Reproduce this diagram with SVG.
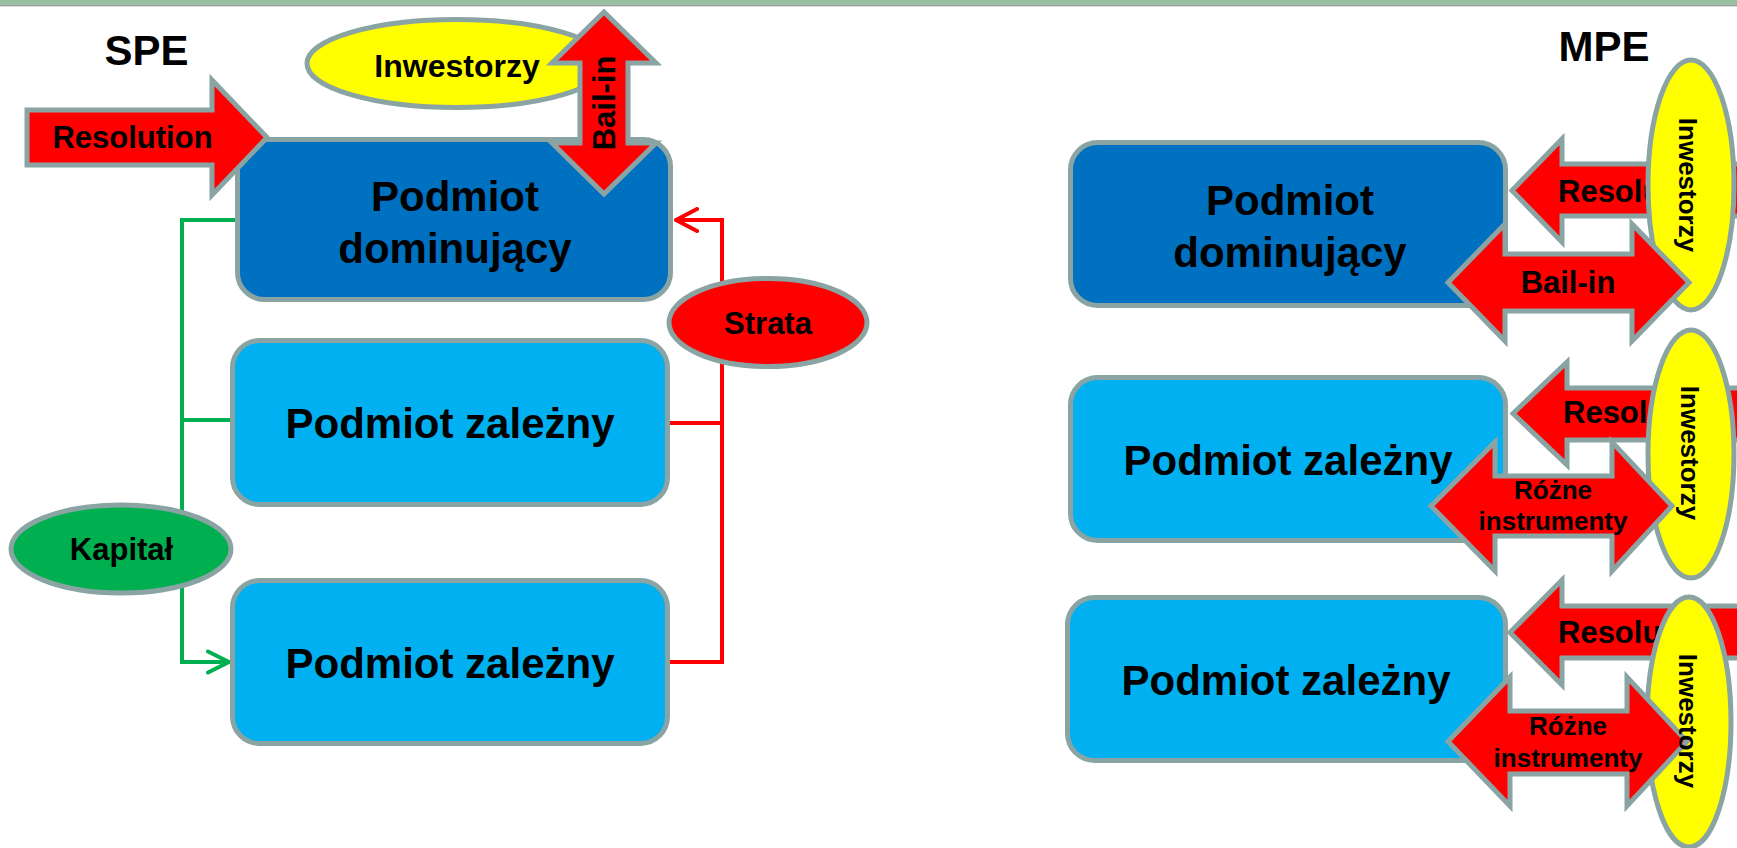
<svg xmlns="http://www.w3.org/2000/svg" width="1737" height="848" viewBox="0 0 1737 848">
<defs>
<style>
.n{stroke:#8aa3a3;stroke-width:5;stroke-linejoin:miter}
.dk{fill:#0070C0}
.lt{fill:#00B0F0}
.rd{fill:#FF0000}
.yl{fill:#FFFF00}
.gr{fill:#00B050}
.t{font-family:"Liberation Sans",Arial,sans-serif;font-weight:bold;fill:#000;text-anchor:middle}
.s{text-anchor:start}
.big{font-size:42px}
.mid{font-size:31px}
.sm{font-size:26px}
.gl{fill:none;stroke:#00B050;stroke-width:4}
.rl{fill:none;stroke:#FF0000;stroke-width:4}
</style>
<marker id="gArr" viewBox="0 0 26 26" refX="23" refY="13" markerWidth="26" markerHeight="26" markerUnits="userSpaceOnUse" orient="auto">
<path d="M2,2.5 L23,13 L2,23.5" fill="none" stroke="#00B050" stroke-width="4" stroke-linecap="round" stroke-linejoin="round"/>
</marker>
<marker id="rArr" viewBox="0 0 26 26" refX="23" refY="13" markerWidth="26" markerHeight="26" markerUnits="userSpaceOnUse" orient="auto">
<path d="M2,2 L23,13 L2,24" fill="none" stroke="#FF0000" stroke-width="4" stroke-linecap="round" stroke-linejoin="round"/>
</marker>
</defs>
<rect x="0" y="0" width="1737" height="848" fill="#ffffff"/>
<g id="topbar">
<rect x="0" y="0" width="1737" height="4.5" fill="#95bf9f"/>
<rect x="0" y="4.5" width="1737" height="1.8" fill="#8f9b99"/>
</g>

<g id="connectors">
<path class="gl" d="M235,220 H182 V662 H229" marker-end="url(#gArr)"/>
<path class="gl" d="M182,420 H231"/>
<path class="rl" d="M670,662 H722 V220 H676" marker-end="url(#rArr)"/>
<path class="rl" d="M670,423 H722"/>
</g>

<g id="spe-title"><text class="t big" x="146.5" y="65">SPE</text></g>
<g id="mpe-title"><text class="t big" x="1604" y="61">MPE</text></g>

<g id="spe-dominujacy">
<rect class="n dk" x="237.5" y="139.5" width="433" height="160" rx="27"/>
<text class="t big" x="455" y="211">Podmiot</text>
<text class="t big" x="455" y="263">dominujący</text>
</g>
<g id="spe-zalezny-1">
<rect class="n lt" x="232.5" y="340.5" width="435" height="164" rx="27"/>
<text class="t big" x="450" y="438">Podmiot zależny</text>
</g>
<g id="spe-zalezny-2">
<rect class="n lt" x="232.5" y="580.5" width="435" height="163" rx="27"/>
<text class="t big" x="450" y="678">Podmiot zależny</text>
</g>

<g id="spe-resolution">
<polygon class="n rd" points="27,110 212,110 212,80 267,137.5 212,195 212,165 27,165"/>
<text class="t mid" x="132.5" y="148">Resolution</text>
</g>
<g id="spe-inwestorzy">
<ellipse class="n yl" cx="457" cy="63.5" rx="150" ry="44"/>
<text class="t" style="font-size:32px" x="457" y="77">Inwestorzy</text>
</g>
<g id="spe-bailin">
<polygon class="n rd" points="604,12 656,63 628,63 628,143 656,143 604,194 552,143 580,143 580,63 552,63"/>
<text class="t mid" transform="translate(604,103) rotate(-90)" x="0" y="11">Bail-in</text>
</g>
<g id="spe-strata">
<ellipse class="n rd" cx="768" cy="322.5" rx="99" ry="44"/>
<text class="t mid" x="768" y="334">Strata</text>
</g>
<g id="spe-kapital">
<ellipse class="n gr" cx="121" cy="549" rx="110" ry="44"/>
<text class="t mid" x="121.5" y="560">Kapitał</text>
</g>

<g id="mpe-dominujacy">
<rect class="n dk" x="1070.5" y="142.5" width="435" height="163" rx="27"/>
<text class="t big" x="1290" y="215">Podmiot</text>
<text class="t big" x="1290" y="267">dominujący</text>
</g>
<g id="mpe-zalezny-1">
<rect class="n lt" x="1070.5" y="377.5" width="435" height="163" rx="27"/>
<text class="t big" x="1288" y="475">Podmiot zależny</text>
</g>
<g id="mpe-zalezny-2">
<rect class="n lt" x="1067.5" y="597.5" width="438" height="163" rx="27"/>
<text class="t big" x="1286" y="695">Podmiot zależny</text>
</g>

<g id="mpe-resolution-1">
<polygon class="n rd" points="1512,190.5 1562,139 1562,164 1760,164 1760,216 1562,216 1562,242"/>
<text class="t mid s" x="1558" y="202">Resolution</text>
</g>
<g id="mpe-inwestorzy-1">
<ellipse class="n yl" cx="1691" cy="185" rx="43" ry="125"/>
</g>
<g id="mpe-bailin">
<polygon class="n rd" points="1448,282.5 1505,224 1505,254 1632,254 1632,224 1689,282.5 1632,341 1632,311 1505,311 1505,341"/>
<text class="t mid" x="1568" y="293">Bail-in</text>
</g>
<g id="mpe-inwestorzy-1-label">
<text class="t sm" transform="translate(1688,185) rotate(90)" x="0" y="9.5">Inwestorzy</text>
</g>

<g id="mpe-resolution-2">
<polygon class="n rd" points="1513,413.5 1567,362 1567,388 1760,388 1760,440 1567,440 1567,465"/>
<text class="t mid s" x="1563" y="423">Resolution</text>
</g>
<g id="mpe-inwestorzy-2">
<ellipse class="n yl" cx="1691" cy="454" rx="43" ry="124"/>
</g>
<g id="mpe-instrumenty-1">
<polygon class="n rd" points="1431,506 1495,442 1495,476 1612,476 1612,442 1672,506 1612,571 1612,536 1495,536 1495,571"/>
<text class="t sm" x="1553" y="499">Różne</text>
<text class="t sm" x="1553" y="530">instrumenty</text>
</g>
<g id="mpe-inwestorzy-2-label">
<text class="t sm" transform="translate(1690,453) rotate(90)" x="0" y="9.5">Inwestorzy</text>
</g>

<g id="mpe-resolution-3">
<polygon class="n rd" points="1510,632.5 1562,580 1562,606 1760,606 1760,658 1562,658 1562,685"/>
<text class="t mid s" x="1558" y="643">Resolution</text>
</g>
<g id="mpe-inwestorzy-3">
<ellipse class="n yl" cx="1689" cy="722" rx="42" ry="125"/>
</g>
<g id="mpe-instrumenty-2">
<polygon class="n rd" points="1448,741.5 1510,677 1510,711 1627,711 1627,677 1687,741.5 1627,806 1627,774 1510,774 1510,806"/>
<text class="t sm" x="1568" y="735">Różne</text>
<text class="t sm" x="1568" y="767">instrumenty</text>
</g>
<g id="mpe-inwestorzy-3-label">
<text class="t sm" transform="translate(1688,721) rotate(90)" x="0" y="9.5">Inwestorzy</text>
</g>
</svg>
